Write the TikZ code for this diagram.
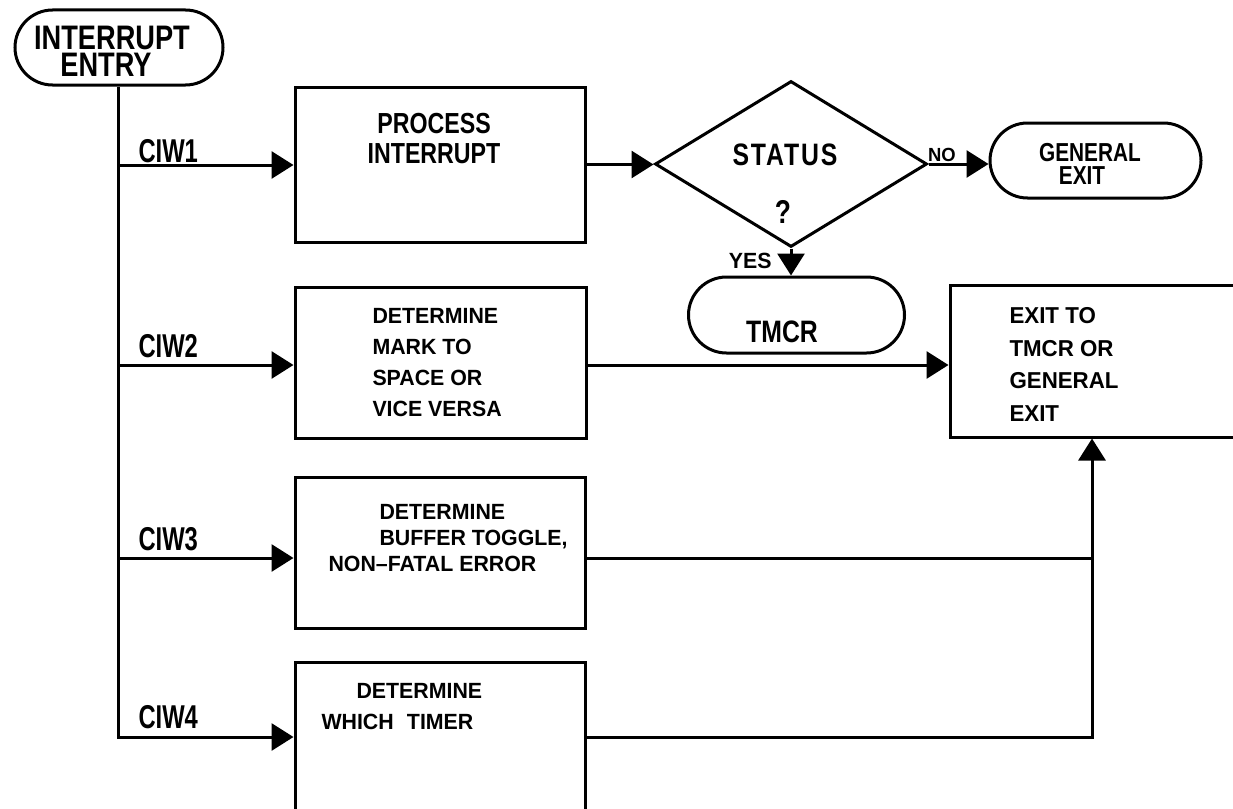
\documentclass[tikz,border=0pt]{standalone}
\usepackage{fontspec}
\setmainfont{Liberation Sans}
\newfontfamily\condf{Liberation Sans}[FakeStretch=0.80]
\newfontfamily\ciwf{Liberation Sans}[FakeStretch=0.72]
\newfontfamily\boxf{Liberation Sans}[FakeStretch=0.97]
\newfontfamily\statf{Liberation Sans}[FakeStretch=0.80,LetterSpace=6]
\usetikzlibrary{arrows.meta,shapes.geometric}
\begin{document}
\begin{tikzpicture}[x=1pt,y=-1pt,line width=3pt,
  arr/.style={-{Triangle[length=22pt,width=27pt]}},
  proc/.style={draw,rectangle,inner sep=0pt},
  lbl/.style={inner sep=0pt,anchor=base west,font=\ciwf\bfseries\fontsize{33}{33}\selectfont},
  cond/.style={inner sep=0pt,font=\condf\bfseries\fontsize{#1}{#1}\selectfont},
  boxtxt/.style={inner sep=0pt,anchor=north west,align=left,font=\boxf\bfseries\fontsize{22}{#1}\selectfont}]
\fill[white] (0,0) rectangle (1233,808);
\useasboundingbox (0,0) rectangle (1233,808);

% terminals
\node[draw,rectangle,rounded corners=37.5pt,minimum width=208pt,minimum height=75pt,inner sep=0pt] (entry) at (119,47.5) {};
\node[inner sep=0pt,anchor=north,align=center,font=\condf\bfseries\fontsize{34}{27}\selectfont] (entryt) at (112,25) {INTERRUPT\\ENTRY\hspace*{12pt}};
\node[draw,rectangle,rounded corners=37.5pt,minimum width=211pt,minimum height=75pt,inner sep=0pt] (gen) at (1095.5,160.5) {};
\node[inner sep=0pt,anchor=north,align=center,font=\condf\bfseries\fontsize{26}{23}\selectfont] (gent) at (1090,142) {GENERAL\\EXIT\hspace*{16pt}};
\node[draw,rectangle,rounded corners=38pt,minimum width=216pt,minimum height=76pt,inner sep=0pt] (tmcr) at (796.5,315) {};
\node[cond=31,anchor=base] (tmcrt) at (782,342) {TMCR};

% process boxes
\node[proc,minimum width=290pt,minimum height=155pt] (box1) at (440,164.5) {};
\node[proc,minimum width=291pt,minimum height=151pt] (box2) at (440.5,362.5) {};
\node[proc,minimum width=290pt,minimum height=151pt] (box3) at (440,552.5) {};
\node[proc,minimum width=290pt,minimum height=168pt] (box4) at (440,746) {};
\node[proc,minimum width=294pt,minimum height=152pt] (exitb) at (1097,361) {};

% decision
\node[draw,diamond,inner sep=0pt,minimum width=272pt,minimum height=166pt] (dia) at (791,164) {};
\node[inner sep=0pt,anchor=base,font=\statf\bfseries\fontsize{31}{31}\selectfont] (st) at (785,165) {STATUS};
\node[cond=33,anchor=base] (q) at (783,223) {?};
\node[inner sep=0pt,anchor=base,font=\boxf\bfseries\fontsize{19}{19}\selectfont] (no) at (942,161) {NO};
\node[inner sep=0pt,anchor=base east,font=\boxf\bfseries\fontsize{22}{22}\selectfont] (yes) at (773,268) {YES};

% texts in boxes
\node[cond=29,anchor=north,align=center,font=\condf\bfseries\fontsize{29}{30}\selectfont] (p1) at (434,112) {PROCESS\\INTERRUPT};
\node[boxtxt=31] (b2t) at (371,307) {DETERMINE\\MARK TO\\SPACE OR\\VICE VERSA};
\node[boxtxt=26] (b3t) at (327,503) {\hspace*{51pt}DETERMINE\\\hspace*{51pt}BUFFER TOGGLE,\\NON–FATAL ERROR};
\node[boxtxt=31] (b4t) at (320,682) {\hspace*{35pt}DETERMINE\\WHICH\hspace{0.6em}TIMER};
\node[inner sep=0pt,anchor=north west,align=left,font=\boxf\bfseries\fontsize{23}{32.5}\selectfont] (ext) at (1008,306) {EXIT TO\\TMCR OR\\GENERAL\\EXIT};

% labels
\node[lbl] (c1) at (137,162) {CIW1};
\node[lbl] (c2) at (137,357) {CIW2};
\node[lbl] (c3) at (137,550) {CIW3};
\node[lbl] (c4) at (137,728) {CIW4};

% connectors
\coordinate (t1) at (118,165);
\coordinate (t2) at (118,365);
\coordinate (t3) at (118,558);
\coordinate (t4) at (118,737);
\coordinate (up) at (1092,737);
\coordinate (j3) at (1092,558);
\draw[arr] (entry.south -| t1) -- (t4) -- (box4.west |- t4);
\draw[arr] (t1) -- (box1.west |- t1);
\draw[arr] (t2) -- (box2.west |- t2);
\draw[arr] (t3) -- (box3.west |- t3);
\draw[arr] (box1.east) -- (box1.east -| dia.west);
\draw[arr] (dia.east) -- (dia.east -| gen.west);
\draw[arr] (dia.south) -- (dia.south |- tmcr.north);
\draw[arr] (box2.east |- t2) -- (exitb.west |- t2);
\draw (box3.east |- t3) -- (j3);
\draw[arr] (box4.east |- t4) -- (up) -- (up |- exitb.south);
\end{tikzpicture}
\end{document}
